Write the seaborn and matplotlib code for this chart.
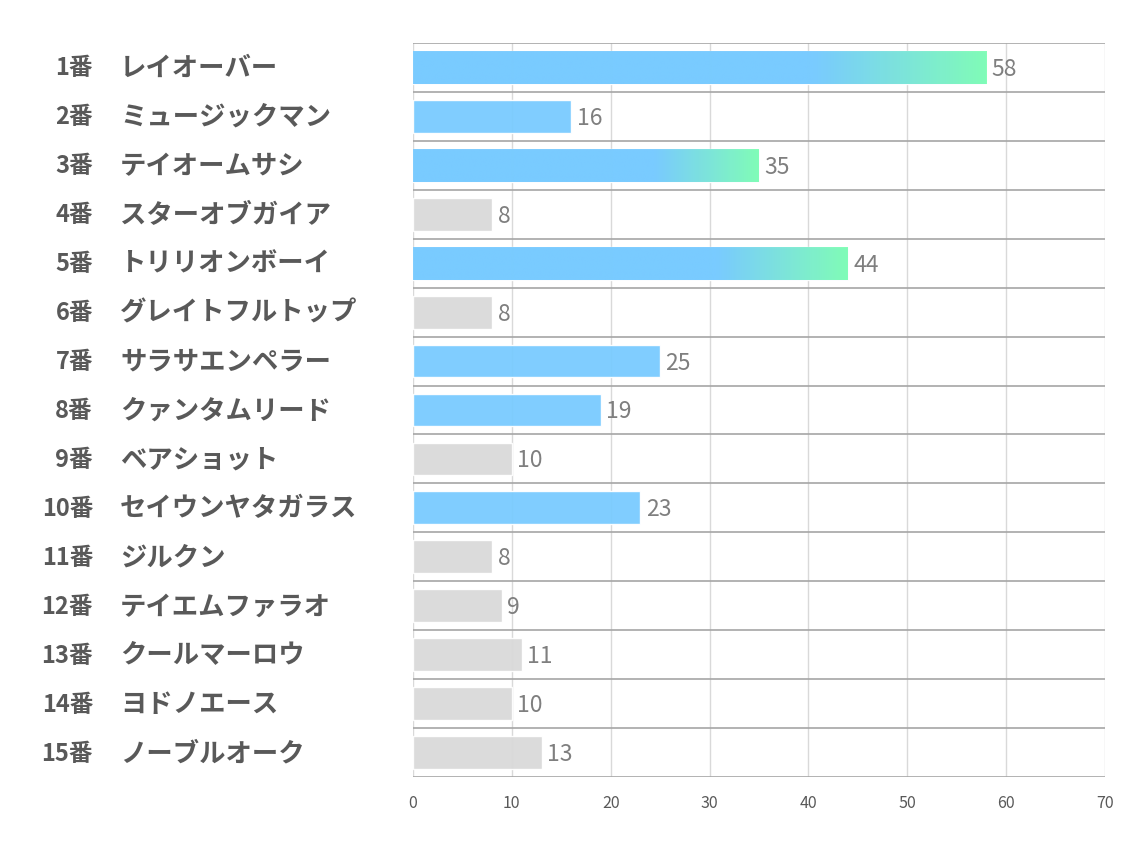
import numpy as np
import pandas as pd
import matplotlib
matplotlib.use("Agg")
import matplotlib.pyplot as plt
import matplotlib.transforms as mtransforms
import seaborn as sns

numbers = ["1番", "2番", "3番", "4番", "5番", "6番", "7番", "8番", "9番", "10番",
           "11番", "12番", "13番", "14番", "15番"]
names = ["レイオーバー", "ミュージックマン", "テイオームサシ", "スターオブガイア", "トリリオンボーイ",
         "グレイトフルトップ", "サラサエンペラー", "クァンタムリード", "ベアショット", "セイウンヤタガラス",
         "ジルクン", "テイエムファラオ", "クールマーロウ", "ヨドノエース", "ノーブルオーク"]
values = [58, 16, 35, 8, 44, 8, 25, 19, 10, 23, 8, 9, 11, 10, 13]
kinds = ["grad", "blue", "grad", "gray", "grad", "gray", "blue", "blue", "gray", "blue",
         "gray", "gray", "gray", "gray", "gray"]
x_ticks = [0, 10, 20, 30, 40, 50, 60, 70]

BLUE = "#79CBFF"
GREEN = "#80FFB4"
GRAY = "#D9D9D9"
kind_colors = {"grad": BLUE, "blue": BLUE, "gray": GRAY}

sns.set_theme(style="white")
plt.rcParams["font.family"] = ["Noto Sans CJK JP", "DejaVu Sans"]

df = pd.DataFrame({"label": [f"{n} {m}" for n, m in zip(numbers, names)],
                   "value": values, "kind": kinds})

fig = plt.figure(figsize=(11.34, 8.5), dpi=100)
ax = fig.add_axes([413 / 1134, 1 - 777 / 850, (1105 - 413) / 1134, (777 - 43) / 850])

sns.barplot(data=df, x="value", y="label", hue="label", legend=False,
            palette=[kind_colors[k] for k in kinds], width=0.67, saturation=1,
            alpha=0.95, ax=ax, zorder=2)

# gradient overlay for top-3 bars
blue_rgb = np.array(matplotlib.colors.to_rgb(BLUE))
green_rgb = np.array(matplotlib.colors.to_rgb(GREEN))
for patch, k, v in zip(ax.patches, kinds, values):
    if k != "grad":
        continue
    x0, y0 = patch.get_x(), patch.get_y()
    w, h = patch.get_width(), patch.get_height()
    t = np.linspace(0, 1, 256)
    f = np.clip((t - 0.70) / 0.30, 0, 1)
    img = (1 - f)[:, None] * blue_rgb + f[:, None] * green_rgb
    img = img[None, :, :]
    im = ax.imshow(img, extent=[x0, x0 + w, y0 + h, y0], aspect="auto",
                   zorder=2.1, alpha=0.95, interpolation="bilinear")
    im.set_clip_path(patch)

ax.set_xlim(0, 70)
ax.set_ylim(14.5, -0.5)
ax.set_xticks(x_ticks)
ax.set_xticklabels([str(t) for t in x_ticks], color="#595959", fontsize=11.5)
ax.tick_params(axis="x", length=0, pad=13)
ax.set_yticks(range(len(values)))
ax.set_yticklabels([])
ax.tick_params(axis="y", length=0)
ax.set_xlabel("")
ax.set_ylabel("")
for s in ax.spines.values():
    s.set_visible(False)

ax.xaxis.grid(True, color="#D9D9D9", linewidth=1, zorder=0)
ax.set_axisbelow(True)
for i in range(len(values) + 1):
    ax.axhline(i - 0.5, color="#A6A6A6", linewidth=1.2, zorder=3)

# value labels
for i, v in enumerate(values):
    ax.text(v + 0.55, i + 0.04, str(v), va="center", ha="left", color="#7F7F7F",
            fontsize=16.5, zorder=4)

# category labels: number right-aligned, name left-aligned
trans = mtransforms.blended_transform_factory(fig.transFigure, ax.transData)
for i, (n, m) in enumerate(zip(numbers, names)):
    ax.text(93 / 1134, i + 0.02, n, transform=trans, ha="right", va="center",
            fontsize=17, fontweight="bold", color="#595959", clip_on=False)
    ax.text(120 / 1134, i + 0.02, m, transform=trans, ha="left", va="center",
            fontsize=19, fontweight="bold", color="#595959", clip_on=False)

fig.savefig("out.png", dpi=100, facecolor="white")
